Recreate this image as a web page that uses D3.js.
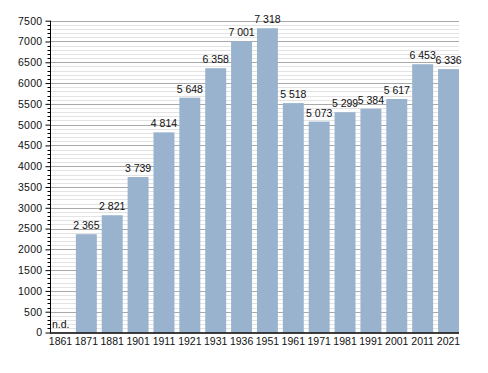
<!DOCTYPE html>
<html>
<head>
<meta charset="utf-8">
<script src="https://cdn.jsdelivr.net/npm/d3@7"></script>
<style>
  body { margin: 0; background: #fff; }
  text { font-family: "Liberation Sans", Arial, sans-serif; font-size: 10.5px; fill: #111; }
</style>
</head>
<body>
<div id="chart"></div>
<script>
// data
const years = ["1861","1871","1881","1901","1911","1921","1931","1936","1951","1961","1971","1981","1991","2001","2011","2021"];
const population = [null,2365,2821,3739,4814,5648,6358,7001,7318,5518,5073,5299,5384,5617,6453,6336];
const yTicks = [0,500,1000,1500,2000,2500,3000,3500,4000,4500,5000,5500,6000,6500,7000,7500];

const W = 488, H = 373;
const plotL = 50, plotR = 459, plotT = 20.7, plotB = 332.5;

const svg = d3.select("#chart").append("svg")
    .attr("width", W)
    .attr("height", H);

const x = d3.scaleBand().domain(years).range([plotL, plotR]).paddingInner(0.19).paddingOuter(0);
const y = d3.scaleLinear().domain([0, 7500]).range([plotB, plotT]);

// grid - minor then major
const minor = d3.range(100, 7501, 100).filter(v => v % 500 !== 0);
svg.append("g").selectAll("line")
    .data(minor).enter().append("line")
    .attr("x1", plotL).attr("x2", plotR)
    .attr("y1", d => Math.round(y(d)) + 0.5).attr("y2", d => Math.round(y(d)) + 0.5)
    .attr("stroke", "#e3e3e3");
svg.append("g").selectAll("line")
    .data(yTicks.filter(d => d > 0)).enter().append("line")
    .attr("x1", plotL).attr("x2", plotR)
    .attr("y1", d => Math.round(y(d)) + 0.5).attr("y2", d => Math.round(y(d)) + 0.5)
    .attr("stroke", "#a9a9a9");

// bars
const data = years.map((yr, i) => ({ year: yr, value: population[i] }));
svg.append("g").selectAll("rect")
    .data(data.filter(d => d.value != null)).enter().append("rect")
    .attr("x", d => x(d.year))
    .attr("width", x.bandwidth())
    .attr("y", d => y(d.value))
    .attr("height", d => plotB - y(d.value))
    .attr("fill", "#99b3cf");

// value labels
svg.append("g").selectAll("text")
    .data(data).enter().append("text")
    .attr("x", d => d.value == null ? x(d.year) + 2 : x(d.year) + x.bandwidth() / 2)
    .attr("y", d => d.value == null ? plotB - 5 : y(d.value) - 5)
    .attr("text-anchor", d => d.value == null ? "start" : "middle")
    .text(d => d.value == null ? "n.d." : d3.format(",")(d.value).replace(",", " "));

// y axis
const yAxis = d3.axisLeft(y).tickValues(yTicks).tickSize(5).tickPadding(3).tickFormat(d3.format("d"));
const gy = svg.append("g").attr("transform", `translate(${plotL + 0.5},0)`).call(yAxis);
gy.select(".domain").attr("stroke", "#000").attr("d", `M0,${plotT}V${plotB}`);
gy.selectAll("line").attr("stroke", "#000");
gy.selectAll("text").style("font-family", "'Liberation Sans', Arial, sans-serif").style("font-size", "10.5px")
    .style("letter-spacing", "0.3px").attr("fill", "#111");
svg.append("g").selectAll("line")
    .data(minor).enter().append("line")
    .attr("x1", plotL - 2.5).attr("x2", plotL)
    .attr("y1", d => Math.round(y(d)) + 0.5).attr("y2", d => Math.round(y(d)) + 0.5)
    .attr("stroke", "#000");

// x axis
svg.append("line")
    .attr("x1", plotL).attr("x2", plotR)
    .attr("y1", plotB + 0.5).attr("y2", plotB + 0.5)
    .attr("stroke", "#000").attr("stroke-width", 1.5);
svg.append("g").selectAll("text")
    .data(years).enter().append("text")
    .attr("x", d => x(d) + x.bandwidth() / 2)
    .attr("y", plotB + 12.5)
    .attr("text-anchor", "middle")
    .text(d => d);
</script>
</body>
</html>
